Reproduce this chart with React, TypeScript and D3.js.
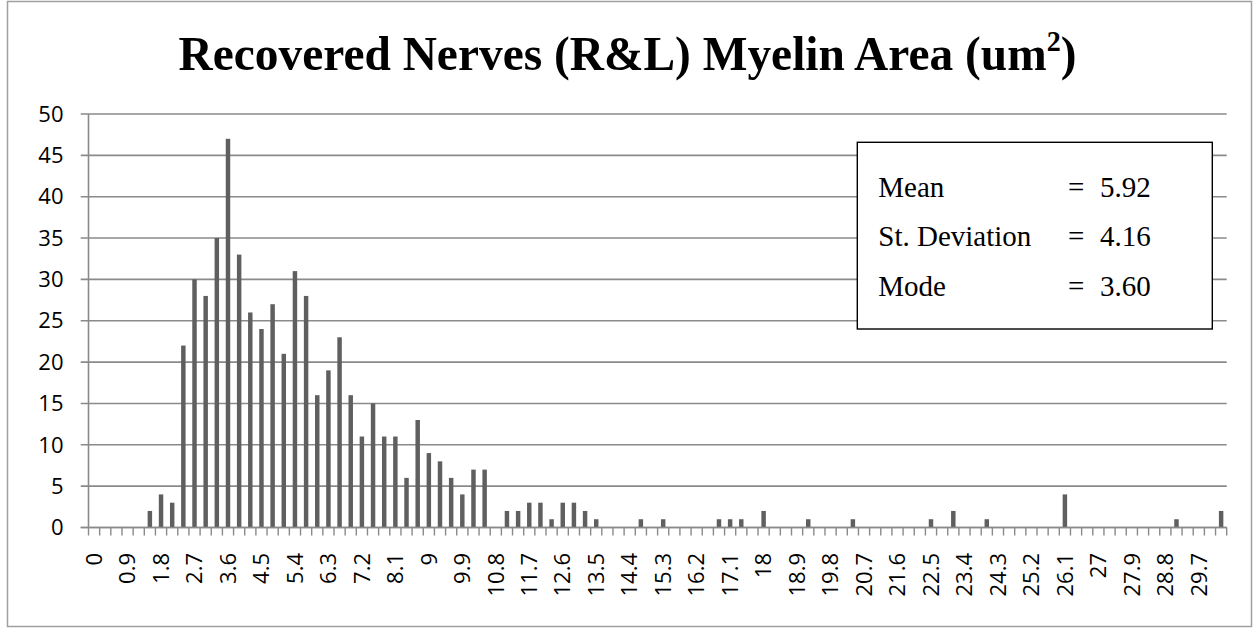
import React from "react";
import * as d3 from "d3";

const categories: string[] = [
  "0","0.3","0.6","0.9","1.2","1.5","1.8","2.1","2.4","2.7",
  "3","3.3","3.6","3.9","4.2","4.5","4.8","5.1","5.4","5.7",
  "6","6.3","6.6","6.9","7.2","7.5","7.8","8.1","8.4","8.7",
  "9","9.3","9.6","9.9","10.2","10.5","10.8","11.1","11.4","11.7",
  "12","12.3","12.6","12.9","13.2","13.5","13.8","14.1","14.4","14.7",
  "15","15.3","15.6","15.9","16.2","16.5","16.8","17.1","17.4","17.7",
  "18","18.3","18.6","18.9","19.2","19.5","19.8","20.1","20.4","20.7",
  "21","21.3","21.6","21.9","22.2","22.5","22.8","23.1","23.4","23.7",
  "24","24.3","24.6","24.9","25.2","25.5","25.8","26.1","26.4","26.7",
  "27","27.3","27.6","27.9","28.2","28.5","28.8","29.1","29.4","29.7",
  "30","30.3"
];

const counts: number[] = [
  0,0,0,0,0,2,4,3,22,30,
  28,35,47,33,26,24,27,21,31,28,
  16,19,23,16,11,15,11,11,6,13,
  9,8,6,4,7,7,0,2,2,3,
  3,1,3,3,2,1,0,0,0,1,
  0,1,0,0,0,0,1,1,1,0,
  2,0,0,0,1,0,0,0,1,0,
  0,0,0,0,0,1,0,2,0,0,
  1,0,0,0,0,0,0,4,0,0,
  0,0,0,0,0,0,0,1,0,0,
  0,2
];

const tickLabels: string[] = [
  "0","0.9","1.8","2.7","3.6","4.5","5.4","6.3","7.2","8.1",
  "9","9.9","10.8","11.7","12.6","13.5","14.4","15.3","16.2","17.1",
  "18","18.9","19.8","20.7","21.6","22.5","23.4","24.3","25.2","26.1",
  "27","27.9","28.8","29.7"
];

const yTicks: number[] = [0, 5, 10, 15, 20, 25, 30, 35, 40, 45, 50];

const statLabels: string[] = ["Mean", "St. Deviation", "Mode"];
const statValues: string[] = ["5.92", "4.16", "3.60"];

const W = 1255;
const H = 628;
const X0 = 88.5;
const X1 = 1226.7;
const Y0 = 527.5;
const Y1 = 114;

export default function App() {
  const x = d3
    .scaleBand<string>()
    .domain(categories)
    .range([X0, X1])
    .paddingInner(0.6)
    .paddingOuter(0.3);
  const step = x.step();
  const y = d3.scaleLinear().domain([0, 50]).range([Y0, Y1]);
  const grid = "#8a8a8a";
  const axisFont = "'Open Sans', 'Liberation Sans', sans-serif";
  const serif = "'Liberation Serif', 'Times New Roman', serif";

  return (
    <svg
      width={W}
      height={H}
      style={{ position: "absolute", left: 0, top: 0, background: "#fff" }}
    >
      <rect x={7.5} y={1.5} width={1244} height={625} fill="#fff" stroke="#a0a0a0" strokeWidth={1.5} />
      <text
        x={178.5}
        y={70}
        textAnchor="start"
        fontFamily={serif}
        fontWeight="bold"
        fontSize={49}
        fill="#000"
        textLength={898}
        lengthAdjust="spacingAndGlyphs"
      >
        Recovered Nerves (R&amp;L) Myelin Area (um
        <tspan fontSize={29} dy={-19}>2</tspan>
        <tspan dy={19}>)</tspan>
      </text>

      {/* gridlines and y ticks */}
      {yTicks.map((t) => (
        <g key={t}>
          <line x1={80.7} x2={X1} y1={y(t)} y2={y(t)} stroke={grid} strokeWidth={1.6} />
          <text
            x={63.5}
            y={y(t)}
            dy="0.35em"
            textAnchor="end"
            fontFamily={axisFont}
            fontSize={22}
            fill="#000"
          >
            {t}
          </text>
        </g>
      ))}
      {/* y axis */}
      <line x1={X0} x2={X0} y1={Y1} y2={Y0} stroke={grid} strokeWidth={1.6} />

      {/* bars */}
      {categories.map((c, i) => (
        <rect
          key={c}
          x={x(c)!}
          y={y(counts[i])}
          width={x.bandwidth()}
          height={Y0 - y(counts[i])}
          fill="#5f5f5f"
        />
      ))}

      {/* x axis */}
      <line x1={80.7} x2={X1} y1={Y0} y2={Y0} stroke={grid} strokeWidth={1.6} />
      {categories.map((c, i) => (
        <line
          key={"t" + c}
          x1={X0 + i * step}
          x2={X0 + i * step}
          y1={Y0}
          y2={Y0 + 8}
          stroke={grid}
          strokeWidth={1.4}
        />
      ))}
      <line x1={X1} x2={X1} y1={Y0} y2={Y0 + 8} stroke={grid} strokeWidth={1.4} />
      {tickLabels.map((l) => {
        const cx = x(l)! + x.bandwidth() / 2;
        return (
          <text
            key={"l" + l}
            transform={`translate(${cx},553) rotate(-90)`}
            textAnchor="end"
            dy="0.35em"
            fontFamily={axisFont}
            fontSize={22}
            fill="#000"
          >
            {l}
          </text>
        );
      })}

      {/* stats box */}
      <rect x={857.3} y={142.3} width={355} height={186.7} fill="#fff" stroke="#000" strokeWidth={1.4} />
      {statLabels.map((s, i) => (
        <g key={s}>
          <text x={878.3} y={196.7 + i * 49.5} fontFamily={serif} fontSize={29} fill="#000">
            {s}
          </text>
          <text x={1068} y={196.7 + i * 49.5} fontFamily={serif} fontSize={29} fill="#000">
            =
          </text>
          <text x={1100} y={196.7 + i * 49.5} fontFamily={serif} fontSize={29} fill="#000">
            {statValues[i]}
          </text>
        </g>
      ))}
    </svg>
  );
}
